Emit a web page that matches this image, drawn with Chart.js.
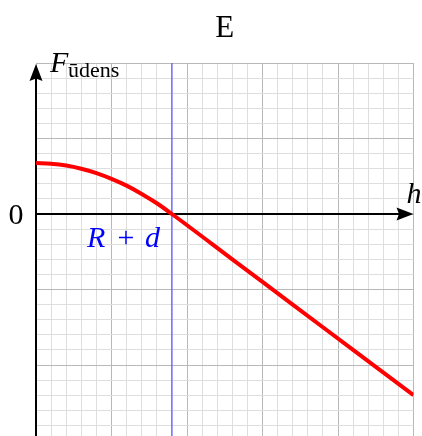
<!DOCTYPE html>
<html>
<head>
<meta charset="utf-8">
<script src="https://cdn.jsdelivr.net/npm/chart.js@4/dist/chart.umd.min.js"></script>
<style>
  html, body { margin: 0; padding: 0; background: #ffffff; overflow: hidden; }
  #frame { width: 422px; height: 436px; overflow: hidden; position: relative; }
  canvas { display: block; }
</style>
</head>
<body>
<div id="frame"><canvas id="plot" width="422" height="450"></canvas></div>
<script>
// Height h (grid units) and buoyant force F (grid units)
const hValues = [0, 1, 2, 3, 4, 5, 6, 7, 8, 9, 13, 17, 21, 25];
const forceValues = [3.38, 3.33, 3.21, 3.0, 2.71, 2.33, 1.88, 1.33, 0.71, 0, -3.0, -6.0, -9.0, -12.0];

// Axis ranges and the marked position R + d
const hRange = [0, 25];
const forceRange = [-15, 10];
const majorStep = 5;
const markedH = 9;

// Texts drawn on the figure
const titleText = 'E';
const zeroLabel = '0';
const hLabel = 'h';
const forceLabel = 'F';
const forceSub = 'ūdens';
const markLabel = ['R', '+', 'd'];

const SERIF = '"Liberation Serif", "DejaVu Serif", serif';
const GRID_MINOR = '#dedede';
const GRID_MAJOR = '#b8b8b8';

function gridColor(ctx) {
  return (Math.abs(ctx.tick.value) % majorStep === 0) ? GRID_MAJOR : GRID_MINOR;
}

const decorations = {
  id: 'decorations',
  beforeDatasetsDraw(chart) {
    const { ctx, chartArea, scales } = chart;
    const x0 = scales.x.getPixelForValue(0);
    const y0 = scales.y.getPixelForValue(0);
    const xm = scales.x.getPixelForValue(markedH);
    ctx.save();
    // vertical marker at R + d
    ctx.strokeStyle = '#5b5bff';
    ctx.lineWidth = 1.3;
    ctx.beginPath();
    ctx.moveTo(xm, chartArea.top);
    ctx.lineTo(xm, chartArea.bottom);
    ctx.stroke();

    // axes
    ctx.strokeStyle = '#000000';
    ctx.fillStyle = '#000000';
    ctx.lineWidth = 2;
    ctx.beginPath();
    ctx.moveTo(x0, chartArea.bottom);
    ctx.lineTo(x0, chartArea.top + 12);
    ctx.moveTo(x0, y0);
    ctx.lineTo(chartArea.right - 12, y0);
    ctx.stroke();

    // arrow heads
    const tipY = chartArea.top + 1;
    ctx.beginPath();
    ctx.moveTo(x0, tipY);
    ctx.lineTo(x0 - 6.5, tipY + 17);
    ctx.lineTo(x0, tipY + 14.5);
    ctx.lineTo(x0 + 6.5, tipY + 17);
    ctx.closePath();
    ctx.fill();

    const tipX = chartArea.right;
    ctx.beginPath();
    ctx.moveTo(tipX, y0);
    ctx.lineTo(tipX - 17, y0 - 6.5);
    ctx.lineTo(tipX - 14.5, y0);
    ctx.lineTo(tipX - 17, y0 + 6.5);
    ctx.closePath();
    ctx.fill();
    ctx.restore();
  },
  afterDraw(chart) {
    const { ctx, chartArea, scales } = chart;
    const x0 = scales.x.getPixelForValue(0);
    const y0 = scales.y.getPixelForValue(0);
    const xm = scales.x.getPixelForValue(markedH);
    ctx.save();
    ctx.fillStyle = '#000000';
    ctx.textBaseline = 'alphabetic';

    // title
    ctx.font = '31px ' + SERIF;
    ctx.textAlign = 'center';
    ctx.fillText(titleText, (chartArea.left + chartArea.right) / 2, 37);

    // zero label on the force axis
    ctx.font = '30px ' + SERIF;
    ctx.fillText(zeroLabel, x0 - 20, y0 + 10);

    // h label
    ctx.textAlign = 'left';
    ctx.font = 'italic 30px ' + SERIF;
    ctx.fillText(hLabel, chartArea.right - 7, y0 - 11);

    // F with subscript
    ctx.fillText(forceLabel, x0 + 14, chartArea.top + 9);
    ctx.font = '22px ' + SERIF;
    ctx.fillText(forceSub, x0 + 32, chartArea.top + 14);

    // R + d label, left of the marker
    ctx.fillStyle = '#0000ff';
    ctx.font = 'italic 30px ' + SERIF;
    ctx.fillText(markLabel[0], xm - 85, y0 + 33);
    ctx.font = '30px ' + SERIF;
    ctx.textAlign = 'center';
    ctx.fillText(markLabel[1], xm - 46, y0 + 33);
    ctx.font = 'italic 30px ' + SERIF;
    ctx.textAlign = 'left';
    ctx.fillText(markLabel[2], xm - 27, y0 + 33);
    ctx.restore();
  }
};

const points = hValues.map((h, i) => ({ x: h, y: forceValues[i] }));

new Chart(document.getElementById('plot'), {
  type: 'line',
  data: {
    datasets: [{
      data: points,
      borderColor: '#ff0000',
      borderWidth: 4,
      pointRadius: 0,
      fill: false,
      cubicInterpolationMode: 'monotone'
    }]
  },
  options: {
    responsive: false,
    animation: false,
    devicePixelRatio: 1,
    layout: { padding: { left: 36, right: 8.5, top: 63, bottom: 9.5 } },
    plugins: { legend: { display: false }, title: { display: false }, tooltip: { enabled: false } },
    events: [],
    scales: {
      x: {
        type: 'linear', min: hRange[0], max: hRange[1],
        ticks: { display: false, stepSize: 1 },
        grid: { color: gridColor, drawTicks: false, lineWidth: 1 },
        border: { display: false }
      },
      y: {
        type: 'linear', min: forceRange[0], max: forceRange[1],
        ticks: { display: false, stepSize: 1 },
        grid: { color: gridColor, drawTicks: false, lineWidth: 1 },
        border: { display: false }
      }
    }
  },
  plugins: [decorations]
});
</script>
</body>
</html>
